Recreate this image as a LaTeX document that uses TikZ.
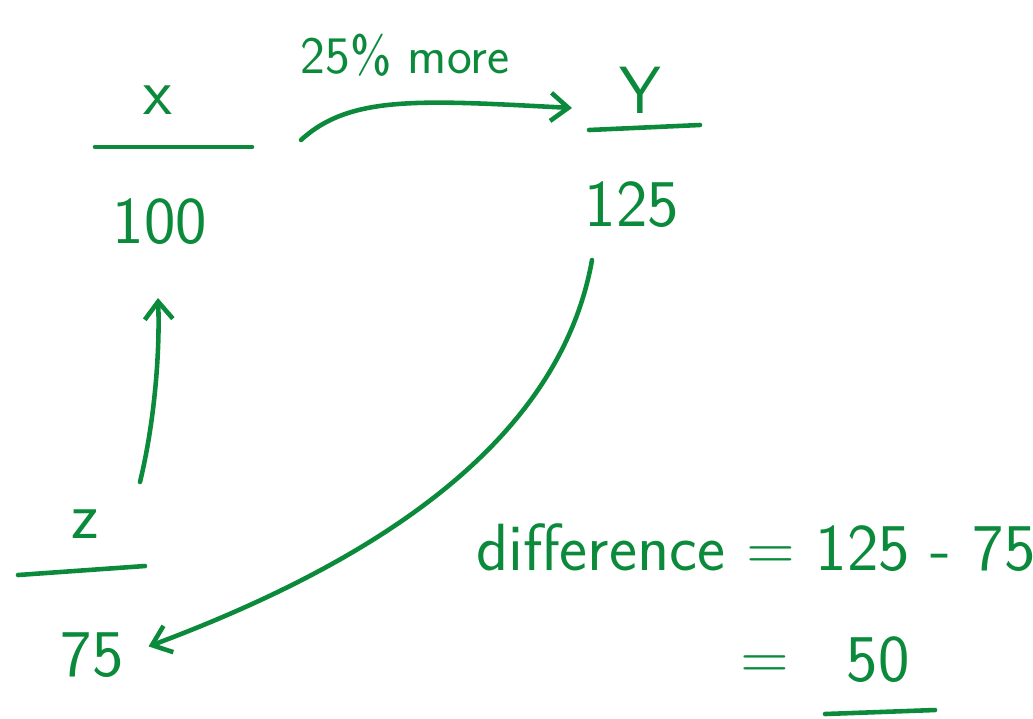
\documentclass[tikz,border=0pt]{standalone}
\usepackage{tikz}
\usetikzlibrary{arrows.meta, positioning, calc}
\usepackage{xcolor}
\definecolor{inkgreen}{HTML}{0B8A3B}

\tikzset{
  ink/.style={draw=inkgreen, line width=2.6pt, line cap=round},
  hand/.style={text=inkgreen, font=\fontsize{38}{42}\selectfont\sffamily, inner sep=1pt},
  small hand/.style={hand, font=\fontsize{30}{34}\selectfont\sffamily},
  handtip/.style={-{Straight Barb[length=10pt, width=16pt, line width=2.6pt]}}
}

\begin{document}
\begin{tikzpicture}[x=0.02cm, y=-0.02cm]
  \useasboundingbox (0, 0) rectangle (1033, 718);

  % first value
  \node[hand] (xname) at (158, 100) {x};
  \coordinate (xbarL) at (95, 147);
  \coordinate (xbarR) at (252, 147);
  \draw[ink] (xbarL) -- (xbarR);
  \node[hand] (hundred) at (160, 222) {100};

  % second value
  \node[hand] (yname) at (640, 90) {Y};
  \coordinate (ybarL) at (589, 130);
  \coordinate (ybarR) at (700, 125);
  \draw[ink] (ybarL) -- (ybarR);
  \node[hand] (onetwentyfive) at (632, 205) {125};

  % third value
  \node[hand] (zname) at (85, 524) {z};
  \coordinate (zbarL) at (18, 575);
  \coordinate (zbarR) at (145, 566);
  \draw[ink] (zbarL) -- (zbarR);
  \node[hand] (seventyfive) at (92, 655) {75};

  % x to Y
  \node[small hand] (more) at (405, 55) {25\% more};
  \coordinate (xout) at (301, 140);
  \coordinate (yin) at (572, 108);
  \draw[ink, handtip] (xout) .. controls (350, 95) and (420, 100) .. (yin);

  % 125 back to 75
  \coordinate (ydown) at (592, 260);
  \draw[ink, handtip, shorten >=14pt] (ydown) .. controls (560, 440) and (380, 560) .. (seventyfive.east);

  % z up to 100
  \coordinate (zup) at (140, 482);
  \draw[ink, handtip] (zup) .. controls (155, 420) and (160, 350) .. (158, 298);

  % result
  \node[hand, anchor=west] (diff) at (474, 548) {difference = 125 - 75};
  \node[hand] (eqsign) at (765, 668) {=};
  \node[hand] (fifty) at (878, 660) {50};
  \coordinate (fiftyL) at (825, 714);
  \coordinate (fiftyR) at (935, 710);
  \draw[ink] (fiftyL) -- (fiftyR);
\end{tikzpicture}
\end{document}
